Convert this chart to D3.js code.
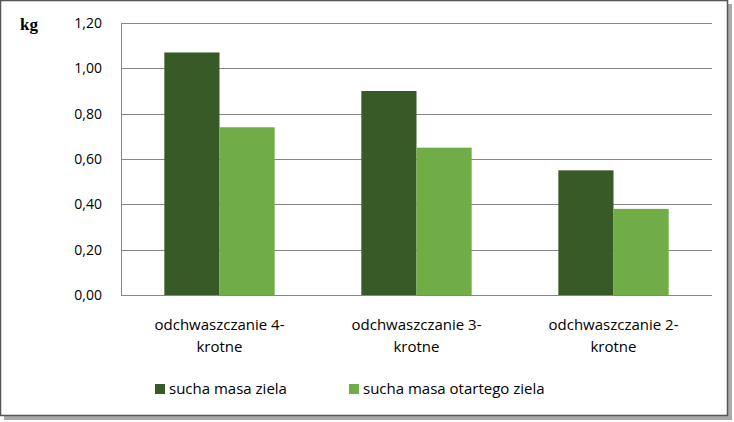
<!DOCTYPE html>
<html lang="pl">
<head>
<meta charset="UTF-8">
<title>odchwaszczanie</title>
<style>body{margin:0;background:#fff}</style>
</head>
<body>
<script src="https://cdn.jsdelivr.net/npm/d3@7"></script>
<script>
var categories = ["odchwaszczanie 4-|krotne", "odchwaszczanie 3-|krotne", "odchwaszczanie 2-|krotne"];
var seriesNames = ["sucha masa ziela", "sucha masa otartego ziela"];
var dryMass = [1.07, 0.90, 0.55];
var rubbedMass = [0.74, 0.65, 0.38];
var ticks = [0, 0.2, 0.4, 0.6, 0.8, 1.0, 1.2];
var colors = ["#375A26", "#70AD47"];

var svg = d3.select("body").append("svg").attr("width", 734).attr("height", 422);
svg.append("rect").attr("x", 4).attr("y", 4).attr("width", 728).attr("height", 416).attr("fill", "#aaa");
svg.append("rect").attr("x", 0.5).attr("y", 0.5).attr("width", 727).attr("height", 415)
    .attr("fill", "#fff").attr("stroke", "#555").attr("stroke-width", 1.5);

var plotL = 121, plotR = 712, plotT = 23, plotB = 295;
var x = d3.scaleBand().domain(categories).range([plotL, plotR]).paddingInner(0.44).paddingOuter(0.22);
var sub = d3.scaleBand().domain([0, 1]).range([0, x.bandwidth()]);
var y = d3.scaleLinear().domain([0, 1.2]).range([plotB, plotT]);

svg.append("g").selectAll("line").data(ticks).join("line")
    .attr("x1", plotL).attr("x2", plotR).attr("y1", d => Math.round(y(d)) + 0.5).attr("y2", d => Math.round(y(d)) + 0.5)
    .attr("stroke", "#868686");
svg.append("line").attr("x1", plotL + 0.5).attr("x2", plotL + 0.5).attr("y1", plotT).attr("y2", plotB).attr("stroke", "#868686");

svg.append("g").selectAll("text").data(ticks).join("text")
    .attr("x", 102).attr("y", d => y(d) + 5).attr("text-anchor", "end")
    .attr("font-family", "Open Sans, sans-serif").attr("font-size", 14)
    .text(d => d.toFixed(2).replace(".", ","));

svg.append("text").attr("x", 20).attr("y", 30).attr("font-family", "Liberation Serif, serif")
    .attr("font-weight", "bold").attr("font-size", 17).text("kg");

[dryMass, rubbedMass].forEach(function (vals, s) {
    svg.append("g").selectAll("rect").data(vals).join("rect")
        .attr("x", (d, i) => x(categories[i]) + sub(s))
        .attr("width", sub.bandwidth())
        .attr("y", d => y(d)).attr("height", d => plotB - y(d))
        .attr("fill", colors[s]);
});

categories.forEach(function (c) {
    var t = svg.append("text").attr("text-anchor", "middle")
        .attr("font-family", "Open Sans, sans-serif").attr("font-size", 15);
    c.split("|").forEach(function (line, k) {
        t.append("tspan").attr("x", x(c) + x.bandwidth() / 2).attr("y", 330 + k * 22).text(line);
    });
});

var lx = [155, 349];
seriesNames.forEach(function (n, s) {
    svg.append("rect").attr("x", lx[s]).attr("y", 384).attr("width", 10).attr("height", 10).attr("fill", colors[s]);
    svg.append("text").attr("x", lx[s] + 14).attr("y", 394)
        .attr("font-family", "Open Sans, sans-serif").attr("font-size", 15).text(n);
});
</script>
</body>
</html>
